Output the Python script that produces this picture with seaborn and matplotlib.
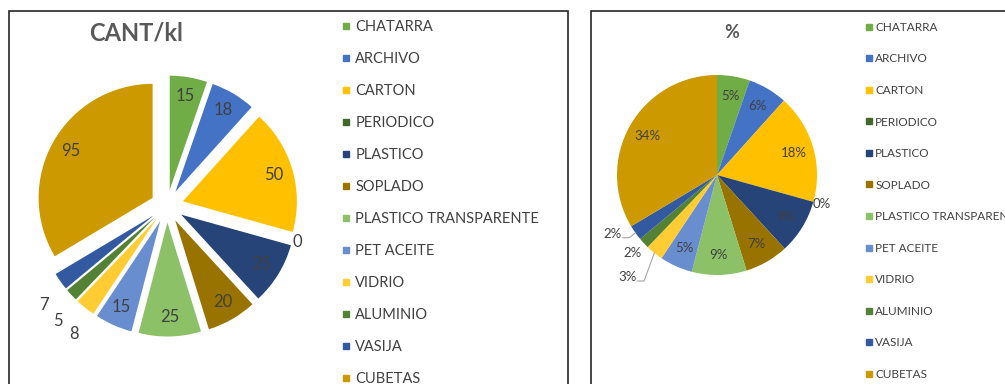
import numpy as np
import matplotlib
matplotlib.use("Agg")
import matplotlib.pyplot as plt
import seaborn as sns
from matplotlib.patches import Rectangle
from matplotlib.lines import Line2D

# Waste material quantities (kg)
categorias = ["CHATARRA", "ARCHIVO", "CARTON", "PERIODICO", "PLASTICO", "SOPLADO",
              "PLASTICO TRANSPARENTE", "PET ACEITE", "VIDRIO", "ALUMINIO", "VASIJA", "CUBETAS"]
cantidades = [15, 18, 50, 0, 25, 20, 25, 15, 8, 5, 7, 95]
colores = ["#70AD47", "#4472C4", "#FFC000", "#43682B", "#264478", "#997300",
           "#8CC168", "#698ED0", "#FFCD33", "#548235", "#335AA1", "#CC9A00"]

sns.set_theme(style="white")
plt.rcParams['font.family'] = ['Lato', 'DejaVu Sans']
paleta = sns.color_palette(colores)

W, H = 1005, 384
fig = plt.figure(figsize=(W / 100, H / 100), dpi=100)
TXT = "#404040"


def px_axes(cx, cy_top, half):
    cy = H - cy_top
    ax = fig.add_axes([(cx - half) / W, (cy - half) / H, 2 * half / W, 2 * half / H])
    return ax


def set_scale(ax, half, r):
    lim = half / r
    ax.set_xlim(-lim, lim)
    ax.set_ylim(-lim, lim)
    ax.set_aspect("equal")
    ax.axis("off")


def mid_angle(w, da_cw=0.0):
    # da_cw: nudge in clockwise degrees
    return np.deg2rad((w.theta1 + w.theta2) / 2 - da_cw)


# Panel frames
fig.add_artist(Rectangle((9 / W, -0.05), 559 / W, 373 / H + 0.05, transform=fig.transFigure,
                         fill=False, ec="#262626", lw=1.2))
fig.add_artist(Rectangle((591 / W, -0.05), 0.5, 373 / H + 0.05, transform=fig.transFigure,
                         fill=False, ec="#262626", lw=1.2))

# ---- Left: exploded pie with quantities ----
ax1 = px_axes(167, 206, 150)
w1, _ = ax1.pie(cantidades, colors=paleta, startangle=90, counterclock=False,
                explode=[0.145] * len(cantidades), radius=1,
                wedgeprops=dict(linewidth=0))
set_scale(ax1, 150, 114)
fuera1 = {"PERIODICO": (1.04, 0), "VIDRIO": (1.24, -3), "ALUMINIO": (1.24, -4), "VASIJA": (1.24, -4)}
for w, cat, v in zip(w1, categorias, cantidades):
    cx, cy = w.center
    d, da = fuera1.get(cat, (0.83, 0))
    a = mid_angle(w, da)
    ax1.text(cx + d * np.cos(a), cy + d * np.sin(a), f"{v}", ha="center", va="center",
             fontsize=12, color=TXT)

fig.text(136 / W, 1 - 33 / H, "CANT/kl", ha="center", va="center", fontsize=17,
         fontweight="bold", color="#595959")

handles = [Line2D([], [], marker="s", ls="", color=c, markersize=5) for c in paleta]
fig.legend(handles, categorias, loc="upper left", bbox_to_anchor=(332 / W, 1 - 13 / H),
           frameon=False, fontsize=10.5, labelspacing=1.235, handletextpad=0.2, borderpad=0,
           handlelength=0.9, labelcolor=TXT)

# ---- Right: percentage pie ----
ax2 = px_axes(717, 175, 125)
total = sum(cantidades)
w2, _ = ax2.pie(cantidades, colors=paleta, startangle=90, counterclock=False, radius=1,
                wedgeprops=dict(linewidth=0))
set_scale(ax2, 125, 100)
fuera2 = {"PERIODICO": (1.09, 0, False), "VASIJA": (1.2, 6, True),
          "ALUMINIO": (1.15, 0, False), "VIDRIO": (1.36, 2.6, True)}
for w, cat, v in zip(w2, categorias, cantidades):
    txt = f"{v / total * 100:.0f}%"
    if cat in fuera2:
        d, da, linea = fuera2[cat]
        a = mid_angle(w, da)
        tx, ty = d * np.cos(a), d * np.sin(a)
        ax2.text(tx, ty, txt, ha="center", va="center", fontsize=9.5, color=TXT)
        if linea:
            am = mid_angle(w)
            ex, ey = np.cos(am), np.sin(am)
            x0, y0 = tx + 0.10, ty - 0.04
            ax2.plot([x0, x0 + 0.07, ex], [y0, y0, ey], color="#a6a6a6", lw=0.8)
    else:
        a = mid_angle(w)
        ax2.text(0.8 * np.cos(a), 0.8 * np.sin(a), txt, ha="center", va="center",
                 fontsize=9.5, color=TXT)

fig.text(732 / W, 1 - 32 / H, "%", ha="center", va="center", fontsize=13,
         fontweight="bold", color="#595959")

handles2 = [Line2D([], [], marker="s", ls="", color=c, markersize=5) for c in paleta]
fig.legend(handles2, categorias, loc="upper left", bbox_to_anchor=(858 / W, 1 - 16 / H),
           frameon=False, fontsize=8.5, labelspacing=1.74, handletextpad=0.15, borderpad=0,
           handlelength=0.8, labelcolor=TXT)

fig.savefig("out.png", dpi=100)
